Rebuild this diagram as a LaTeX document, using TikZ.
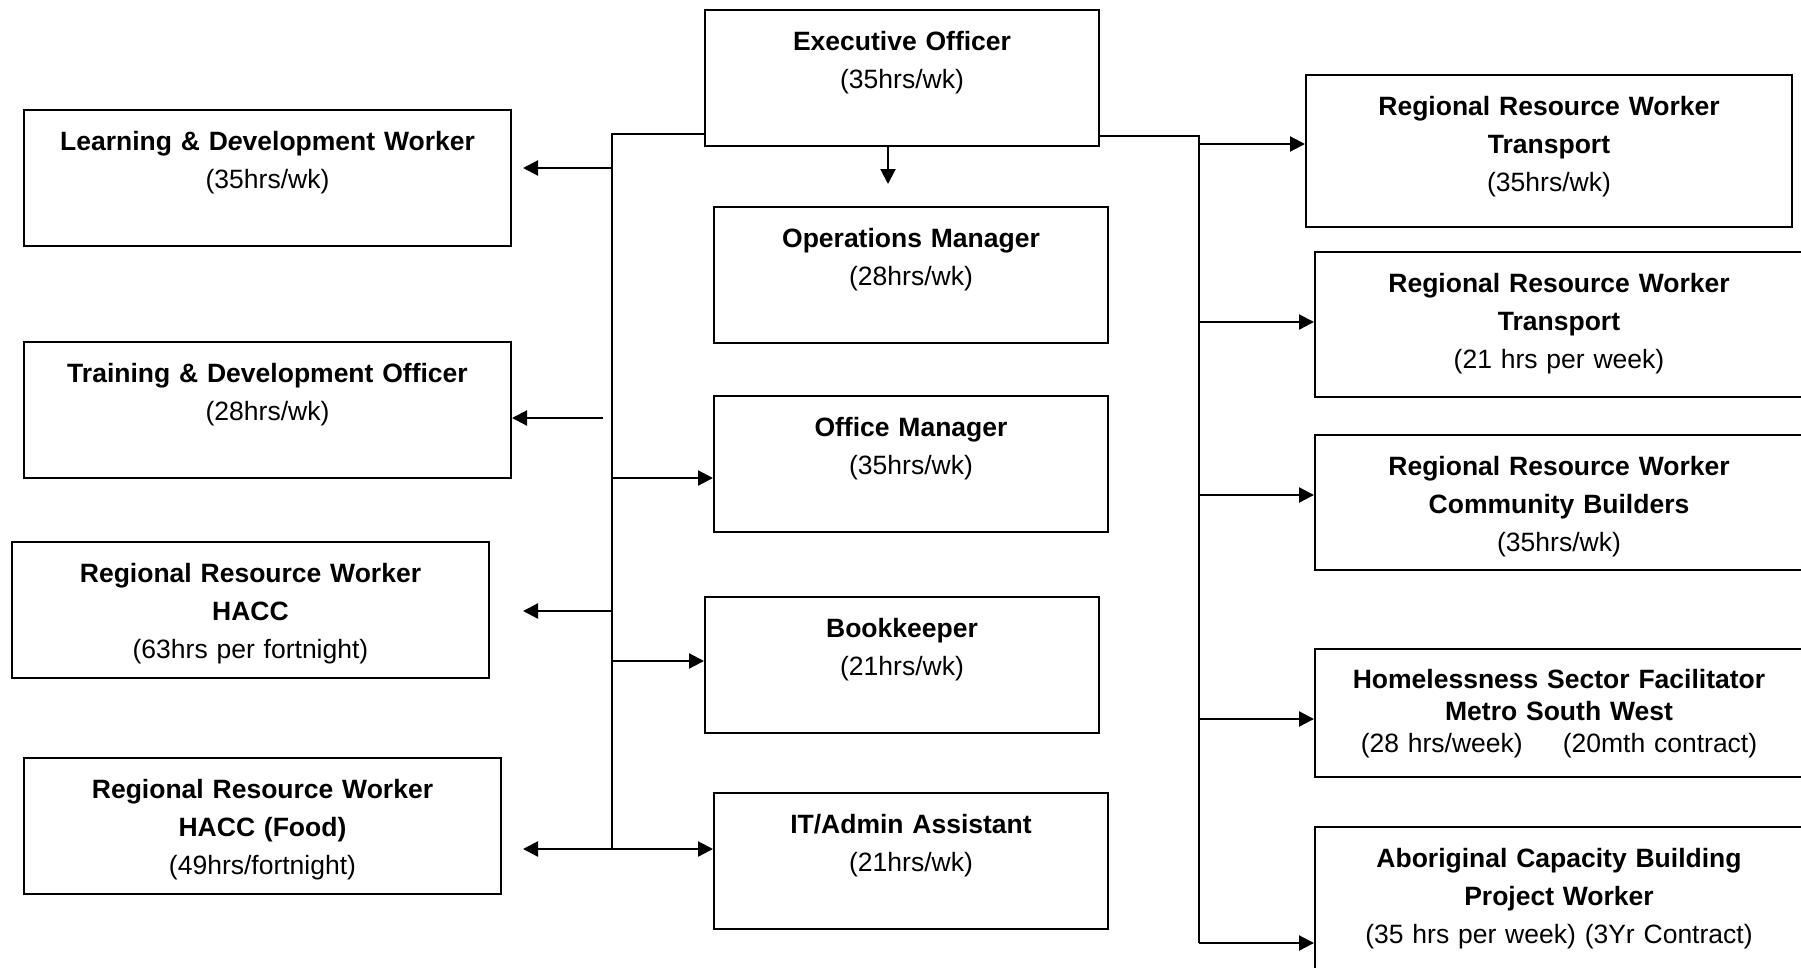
\documentclass[tikz,border=0pt]{standalone}
\usepackage{fontspec}
\setmainfont{Liberation Sans}
\usetikzlibrary{arrows.meta,positioning,calc}
\tikzset{
  box/.style={draw, line width=2pt, align=center, anchor=north west, inner xsep=0pt, inner ysep=0pt,
    text height=40.5pt, text depth=95.5pt, font=\fontsize{26.5}{38}\selectfont\bfseries},
  mid/.style={box, text width=394pt},
  side/.style={box, text width=487pt},
  far/.style={box, text width=488pt},
  arrow/.style={-{Triangle[length=15pt,width=15pt]}, line width=2.2pt},
  wire/.style={line width=2.2pt}
}
\begin{document}
\begin{tikzpicture}[x=1pt, y=-1pt]
  \path[use as bounding box, clip] (0,0) rectangle (1801,967);

  % centre column
  \node[mid] (exec) at (704,9) {Executive Officer\\\mdseries(35hrs/wk)};
  \node[mid] (ops) at (713,206) {Operations Manager\\\mdseries(28hrs/wk)};
  \node[mid] (office) at (713,395) {Office Manager\\\mdseries(35hrs/wk)};
  \node[mid] (books) at (704,596) {Bookkeeper\\\mdseries(21hrs/wk)};
  \node[mid] (itadmin) at (713,792) {IT/Admin Assistant\\\mdseries(21hrs/wk)};

  % left column
  \node[side] (learning) at (23,109) {Learning \& D\textit{e}velopment Worker\\\mdseries(35hrs/wk)};
  \node[side] (training) at (23,341) {Training \& Development Officer\\\mdseries(28hrs/wk)};
  \node[side, text width=477pt] (hacc) at (11,541) {Regional Resource Worker\\HACC\\\mdseries(63hrs per fortnight)};
  \node[side, text width=477pt] (food) at (23,757) {Regional Resource Worker\\HACC (Food)\\\mdseries(49hrs/fortnight)};

  % right column
  \node[far, text width=486pt, text depth=111.5pt] (transfull) at (1305,74) {Regional Resource Worker\\Transport\\\mdseries(35hrs/wk)};
  \node[far, text depth=104.5pt] (transpart) at (1314,251) {Regional Resource Worker\\Transport\\\mdseries(21 hrs per week)};
  \node[far, text depth=94.5pt] (builders) at (1314,434) {Regional Resource Worker\\Community Builders\\\mdseries(35hrs/wk)};
  \node[far, text height=39.5pt, text depth=88.5pt] (homeless) at (1314,648) {Homelessness Sector Facilitator\\[-6pt]Metro South West\\[-6pt]\mdseries(28 hrs/week)\hspace{40pt}(20mth contract)};
  \node[far, text depth=109.5pt] (capacity) at (1314,826) {Aboriginal Capacity Building\\Project Worker\\\mdseries(35 hrs per week) (3Yr Contract)};

  % trunks
  \coordinate (ltop) at (612,134);
  \coordinate (lend) at (612,849);
  \coordinate (rtop) at (1199,136);
  \coordinate (rend) at (1199,943);
  \draw[wire] (exec.south west |- ltop) -- (ltop) -- (lend);
  \draw[wire] (exec.south east |- rtop) -- (rtop) -- (rend);

  % left branches
  \coordinate (tolearning) at (612,168);
  \coordinate (totraining) at (603,418);
  \coordinate (tohacc) at (612,611);
  \coordinate (tooffice) at (612,478);
  \coordinate (tobooks) at (612,661);
  \coordinate (downops) at (888,184);
  \draw[arrow, shorten >=11pt] (tolearning) -- (learning.east |- tolearning);
  \draw[arrow] (totraining) -- (training.east |- totraining);
  \draw[arrow, shorten >=33pt] (tohacc) -- (hacc.east |- tohacc);
  \draw[arrow, shorten >=21pt] (lend) -- (food.east |- lend);
  \draw[arrow] (tooffice) -- (office.west |- tooffice);
  \draw[arrow] (tobooks) -- (books.west |- tobooks);
  \draw[arrow] (lend) -- (itadmin.west |- lend);
  \draw[arrow] (exec.south -| downops) -- (downops);

  % right branches
  \coordinate (tofull) at (1199,144);
  \coordinate (topart) at (1199,322);
  \coordinate (tobuilders) at (1199,495);
  \coordinate (tohomeless) at (1199,719);
  \draw[arrow] (tofull) -- (transfull.west |- tofull);
  \draw[arrow] (topart) -- (transpart.west |- topart);
  \draw[arrow] (tobuilders) -- (builders.west |- tobuilders);
  \draw[arrow] (tohomeless) -- (homeless.west |- tohomeless);
  \draw[arrow] (rend) -- (capacity.west |- rend);
\end{tikzpicture}
\end{document}
